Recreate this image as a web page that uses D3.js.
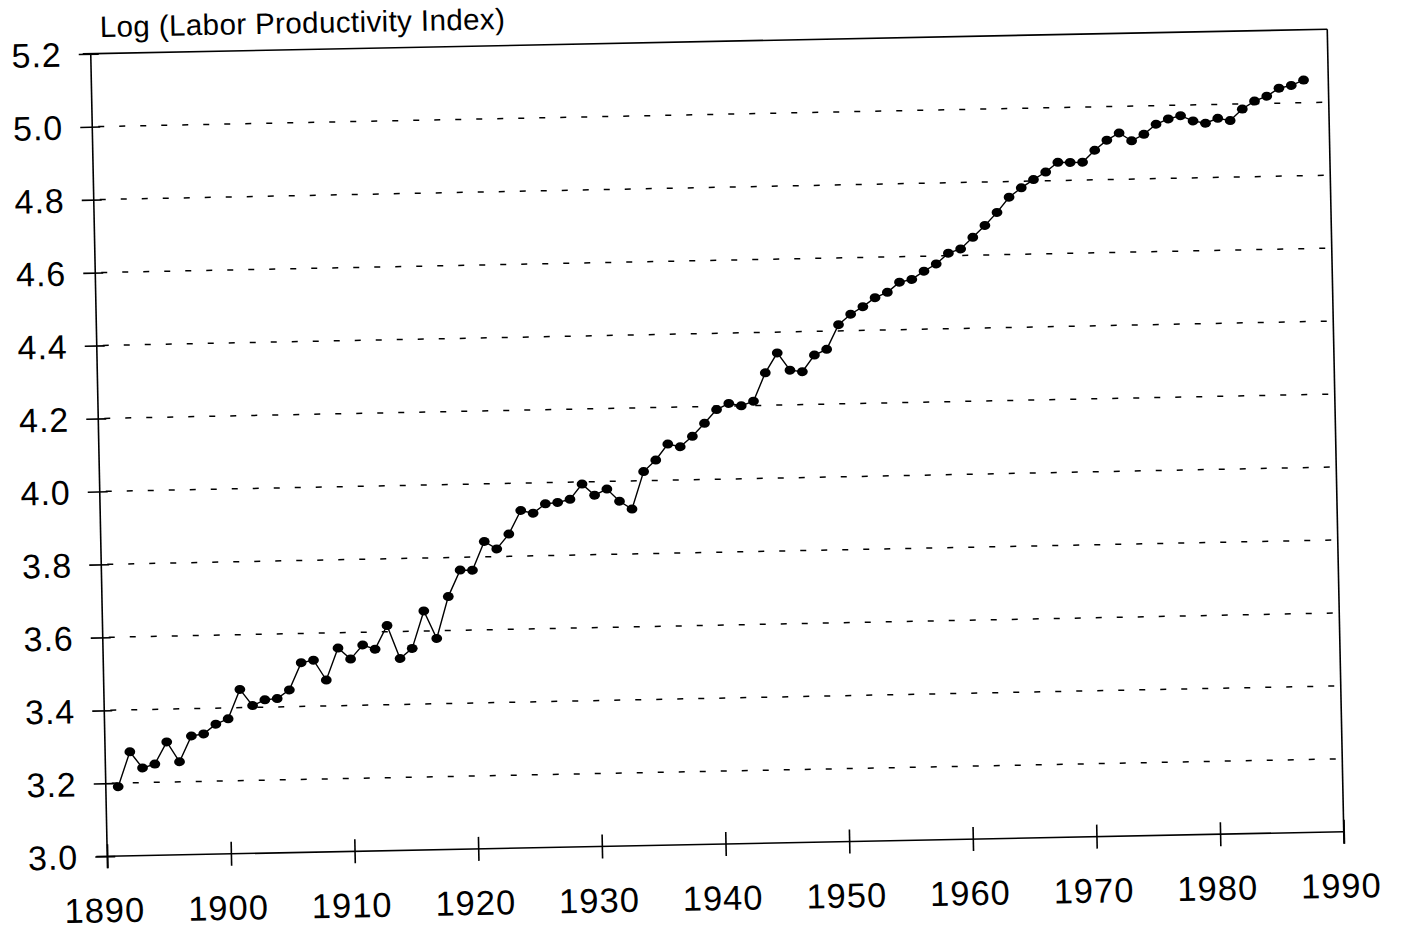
<!DOCTYPE html>
<html lang="en">

<head>
    <meta charset="UTF-8">
    <meta name="viewport" content="width=device-width, initial-scale=1.0">
    <title>Log (Labor Productivity Index)</title>
    <script src="https://cdnjs.cloudflare.com/ajax/libs/d3/7.8.5/d3.min.js"></script>
    <style>
        body {
            margin: 0;
            background: #fff;
        }

        text {
            font-family: "Liberation Sans", Arial, Helvetica, sans-serif;
            fill: #000;
        }

        .frame {
            stroke: #000;
            stroke-width: 1.6px;
        }

        .grid line {
            stroke: #000;
            stroke-width: 1.5px;
            stroke-dasharray: 6, 15;
        }

        .line {
            fill: none;
            stroke: #000;
            stroke-width: 1.4px;
        }
    </style>
</head>

<body>
    <script>
        // years plotted (one point per year)
        var years = [
            1891, 1892, 1893, 1894, 1895, 1896, 1897, 1898, 1899, 1900,
            1901, 1902, 1903, 1904, 1905, 1906, 1907, 1908, 1909, 1910,
            1911, 1912, 1913, 1914, 1915, 1916, 1917, 1918, 1919, 1920,
            1921, 1922, 1923, 1924, 1925, 1926, 1927, 1928, 1929, 1930,
            1931, 1932, 1933, 1934, 1935, 1936, 1937, 1938, 1939, 1940,
            1941, 1942, 1943, 1944, 1945, 1946, 1947, 1948, 1949, 1950,
            1951, 1952, 1953, 1954, 1955, 1956, 1957, 1958, 1959, 1960,
            1961, 1962, 1963, 1964, 1965, 1966, 1967, 1968, 1969, 1970,
            1971, 1972, 1973, 1974, 1975, 1976, 1977, 1978, 1979, 1980,
            1981, 1982, 1983, 1984, 1985, 1986, 1987, 1988
        ];

        // log of the labor productivity index
        var logIndex = [
            3.190, 3.285, 3.240, 3.250, 3.310, 3.255, 3.325, 3.330, 3.356, 3.370,
            3.450, 3.405, 3.420, 3.423, 3.446, 3.520, 3.526, 3.471, 3.558, 3.527,
            3.565, 3.553, 3.617, 3.526, 3.553, 3.655, 3.579, 3.693, 3.765, 3.764,
            3.842, 3.821, 3.861, 3.925, 3.917, 3.942, 3.945, 3.953, 3.994, 3.963,
            3.979, 3.945, 3.923, 4.025, 4.056, 4.099, 4.091, 4.119, 4.154, 4.191,
            4.207, 4.200, 4.212, 4.289, 4.343, 4.295, 4.290, 4.335, 4.350, 4.417,
            4.445, 4.465, 4.489, 4.503, 4.530, 4.537, 4.559, 4.578, 4.607, 4.618,
            4.649, 4.681, 4.716, 4.757, 4.782, 4.804, 4.824, 4.850, 4.849, 4.849,
            4.881, 4.908, 4.927, 4.905, 4.922, 4.949, 4.963, 4.971, 4.956, 4.949,
            4.962, 4.955, 4.986, 5.007, 5.020, 5.041, 5.048, 5.062
        ];

        var xTicks = [1890, 1900, 1910, 1920, 1930, 1940, 1950, 1960, 1970, 1980, 1990];
        var yTicks = [3.0, 3.2, 3.4, 3.6, 3.8, 4.0, 4.2, 4.4, 4.6, 4.8, 5.0, 5.2];
        var yTitle = "Log (Labor Productivity Index)";

        var data = years.map(function (yr, i) { return { year: yr, value: logIndex[i] }; });

        // plot area size
        var width = 1236.5,
            height = 802.5;

        var svg = d3.select("body")
            .append("svg")
            .attr("width", 1401)
            .attr("height", 930);

        svg.append("rect")
            .attr("width", 1401)
            .attr("height", 930)
            .attr("fill", "#fff");

        // the original is a scanned page that sits a bit crooked,
        // so the whole plot is put through a small skew/rotation matrix
        var g = svg.append("g")
            .attr("transform", "matrix(1,-0.019814,0.02056,1,90.75,53.75)");

        // scales
        var x = d3.scaleLinear().domain([1890, 1990]).range([0, width]);
        var y = d3.scaleLinear().domain([3.0, 5.2]).range([height, 0]);

        // dotted gridlines
        g.append("g")
            .attr("class", "grid")
            .selectAll("line")
            .data(yTicks.filter(function (d) { return d > 3.0 && d < 5.2; }))
            .enter().append("line")
            .attr("x1", 6)
            .attr("x2", width - 4)
            .attr("y1", function (d) { return y(d); })
            .attr("y2", function (d) { return y(d); });

        // frame: bottom + left axis, top + right border
        g.append("line").attr("class", "frame")
            .attr("x1", -11).attr("x2", width).attr("y1", height).attr("y2", height);
        g.append("line").attr("class", "frame")
            .attr("x1", 0).attr("x2", 0).attr("y1", 0).attr("y2", height + 12);
        g.append("line").attr("class", "frame")
            .attr("x1", -8).attr("x2", width).attr("y1", 0).attr("y2", 0);
        g.append("line").attr("class", "frame")
            .attr("x1", width).attr("x2", width).attr("y1", 0).attr("y2", height + 12);

        // X axis (ticks cross the axis line)
        g.append("g")
            .attr("transform", "translate(0," + height + ")")
            .call(d3.axisBottom(x).tickValues(xTicks).tickFormat(d3.format("d")).tickSize(12))
            .call(function (a) {
                a.select(".domain").remove();
                a.selectAll(".tick line").attr("y1", -12).attr("stroke", "#000").attr("stroke-width", 1.6);
                a.selectAll(".tick text")
                    .attr("x", -4)
                    .attr("y", 66)
                    .attr("dy", null)
                    .style("font-size", "34.5px")
                    .style("letter-spacing", "1px");
            });

        // Y axis
        g.append("g")
            .call(d3.axisLeft(y).tickValues(yTicks).tickFormat(d3.format(".1f")).tickSize(12))
            .call(function (a) {
                a.select(".domain").remove();
                a.selectAll(".tick line").attr("x1", 8).attr("stroke", "#000").attr("stroke-width", 1.6);
                a.selectAll(".tick text")
                    .attr("x", -29)
                    .attr("dy", "0.35em")
                    .style("font-size", "34px")
                    .style("letter-spacing", "1px");
            });

        // axis title above the plot
        g.append("text")
            .attr("x", 9.6)
            .attr("y", -16.5)
            .style("font-size", "29.5px")
            .style("letter-spacing", "0.4px")
            .text(yTitle);

        // the series line
        var valueline = d3.line()
            .x(function (d) { return x(d.year); })
            .y(function (d) { return y(d.value); });

        g.append("path")
            .data([data])
            .attr("class", "line")
            .attr("d", valueline);

        // dot markers
        g.selectAll(".dot")
            .data(data)
            .enter().append("ellipse")
            .attr("class", "dot")
            .attr("cx", function (d) { return x(d.year); })
            .attr("cy", function (d) { return y(d.value); })
            .attr("rx", 5.4)
            .attr("ry", 4.5)
            .attr("fill", "#000");
    </script>
</body>

</html>
